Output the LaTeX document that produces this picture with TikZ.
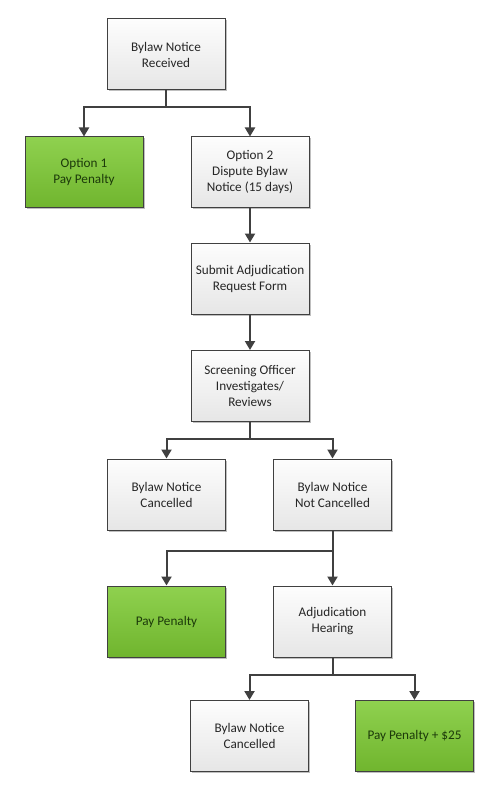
\documentclass[tikz,border=0pt]{standalone}
\usepackage{fontspec}
\setmainfont{Carlito}
\usetikzlibrary{arrows.meta,shadows}
\definecolor{edge}{HTML}{404040}
\definecolor{txt}{HTML}{262626}
\definecolor{gtop}{HTML}{8FD14F}
\definecolor{gbot}{HTML}{70B52E}
\definecolor{gtxt}{HTML}{1C3A0A}
\definecolor{wtop}{HTML}{FDFDFD}
\definecolor{wbot}{HTML}{E6E6E6}
\tikzset{
  box/.style={draw=edge, line width=1pt, minimum width=118pt, minimum height=71pt,
    align=center, font=\fontsize{13.2}{16}\selectfont, text=txt,
    top color=wtop, bottom color=wbot,
    drop shadow={shadow xshift=1.5pt, shadow yshift=-1.5pt, opacity=0.25, fill=black}},
  gbox/.style={box, top color=gtop, bottom color=gbot, text=gtxt},
  conn/.style={draw=edge, line width=2pt, -{Triangle[width=10pt,length=9pt]}},
  link/.style={draw=edge, line width=2pt},
}
\begin{document}
\begin{tikzpicture}[x=1pt,y=-1pt]
\useasboundingbox (0,0) rectangle (496,794);
\fill[white] (0,0) rectangle (496,794);
\node[box]  (A)   at (166,54.5)  {Bylaw Notice\\Received};
\node[gbox] (O1)  at (84,172.5)  {Option 1\\Pay Penalty};
\node[box]  (O2)  at (250,172.5) {Option 2\\Dispute Bylaw\\Notice (15 days)};
\node[box]  (S)   at (250,278.5) {Submit Adjudication\\Request Form};
\node[box]  (Sc)  at (250,386)   {Screening Officer\\Investigates/\\Reviews};
\node[box]  (C1)  at (166.5,494.5) {Bylaw Notice\\Cancelled};
\node[box]  (NC)  at (332.5,494.5) {Bylaw Notice\\Not Cancelled};
\node[gbox] (PP)  at (166.5,621.5) {Pay Penalty};
\node[box]  (AH)  at (332.5,621.5) {Adjudication\\Hearing};
\node[box]  (C2)  at (249.5,736) {Bylaw Notice\\Cancelled};
\node[gbox] (P25) at (414.5,736) {Pay Penalty + \$25};
\coordinate (b1) at (166,107);
\coordinate (b2) at (250,439);
\coordinate (b3) at (332.5,551);
\coordinate (b4) at (332.5,675);
\draw[link] (A.south) -- (b1);
\draw[conn] (b1) -| (O1.north);
\draw[conn] (b1) -| (O2.north);
\draw[conn] (O2) -- (S);
\draw[conn] (S) -- (Sc);
\draw[link] (Sc.south) -- (b2);
\draw[conn] (b2) -| (C1.north);
\draw[conn] (b2) -| (NC.north);
\draw[conn] (NC) -- (AH);
\draw[conn] (b3) -| (PP.north);
\draw[link] (AH.south) -- (b4);
\draw[conn] (b4) -| (C2.north);
\draw[conn] (b4) -| (P25.north);
\end{tikzpicture}
\end{document}
